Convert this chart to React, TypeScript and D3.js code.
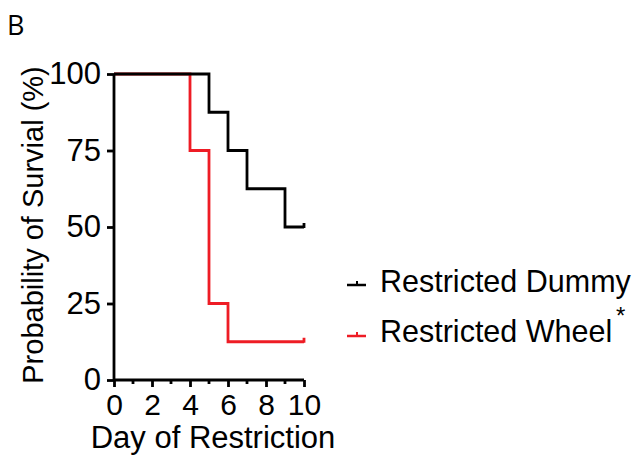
import React, { useEffect, useRef } from 'react';
import * as d3 from 'd3';

// Kaplan-Meier steps: [day, survival %]
const dummySteps: [number, number][] = [
  [0, 100], [5, 100], [5, 87.5], [6, 87.5], [6, 75], [7, 75], [7, 62.5], [9, 62.5], [9, 50], [10, 50],
];
const wheelSteps: [number, number][] = [
  [0, 100], [4, 100], [4, 75], [5, 75], [5, 25], [6, 25], [6, 12.5], [10, 12.5],
];
const seriesNames = ['Restricted Dummy', 'Restricted Wheel'];
const seriesColors = ['#000000', '#ee1c25'];
const xTicks = [0, 2, 4, 6, 8, 10];
const xMinorTicks = [1, 3, 5, 7, 9];
const yTicks = [0, 25, 50, 75, 100];

const App = () => {
  const svgRef = useRef<SVGSVGElement>(null);

  useEffect(() => {
    const svg = d3.select(svgRef.current);
    svg.selectAll('*').remove();
    const font = 'Liberation Sans, Arial, sans-serif';

    const x = d3.scaleLinear().domain([0, 10]).range([114, 304]);
    const y = d3.scaleLinear().domain([0, 100]).range([380, 74]);

    svg.append('text').attr('x', 7).attr('y', 35).text('B')
      .style('font-family', 'Open Sans, sans-serif').style('font-size', '27px');

    const line = d3.line<[number, number]>().x(d => x(d[0])).y(d => y(d[1]));

    // red under black
    [wheelSteps, dummySteps].forEach((steps, i) => {
      const color = i === 0 ? seriesColors[1] : seriesColors[0];
      svg.append('path').attr('d', line(steps)).attr('fill', 'none')
        .attr('stroke', color).attr('stroke-width', 2.8).attr('stroke-linejoin', 'miter');
      const last = steps[steps.length - 1];
      svg.append('line')
        .attr('x1', x(last[0])).attr('x2', x(last[0]))
        .attr('y1', y(last[1]) + 1).attr('y2', y(last[1]) - 4)
        .attr('stroke', color).attr('stroke-width', 2.8);
    });

    // y axis
    const yAxis = d3.axisLeft(y).tickValues(yTicks).tickSize(7).tickPadding(6);
    const gy = svg.append('g').attr('transform', 'translate(114,0)').call(yAxis);
    gy.selectAll('path, line').attr('stroke', '#000').attr('stroke-width', 2.8);
    gy.select('.domain').attr('d', `M0,${y(100)}V${y(0)}`);
    gy.selectAll('text').style('font-family', font).style('font-size', '31px').attr('fill', '#000');

    // x axis
    const xAxis = d3.axisBottom(x).tickValues(xTicks).tickSize(7).tickPadding(7);
    const gx = svg.append('g').attr('transform', 'translate(0,380)').call(xAxis);
    gx.selectAll('path, line').attr('stroke', '#000').attr('stroke-width', 2.8);
    gx.select('.domain').attr('d', `M${x(0)},0H${x(10)}`);
    gx.selectAll('text').style('font-family', font).style('font-size', '30px').attr('fill', '#000');
    gx.selectAll('.minor').data(xMinorTicks).enter().append('line')
      .attr('x1', d => x(d)).attr('x2', d => x(d)).attr('y1', 0).attr('y2', 4)
      .attr('stroke', '#000').attr('stroke-width', 2.8);

    svg.append('text').attr('x', 213).attr('y', 448).attr('text-anchor', 'middle')
      .text('Day of Restriction').style('font-family', font).style('font-size', '31px');

    svg.append('text').attr('transform', 'translate(43,225) rotate(-90)').attr('text-anchor', 'middle')
      .text('Probability of Survial (%)').style('font-family', font).style('font-size', '29px');

    // legend
    const legendY = [285, 336];
    const textY = [292, 342];
    seriesNames.forEach((name, i) => {
      const g = svg.append('g').attr('transform', `translate(347,${legendY[i]})`);
      g.append('line').attr('x1', 0).attr('x2', 19).attr('y1', 0).attr('y2', 0)
        .attr('stroke', seriesColors[i]).attr('stroke-width', 2.5);
      g.append('line').attr('x1', 10).attr('x2', 10).attr('y1', 0).attr('y2', -4)
        .attr('stroke', seriesColors[i]).attr('stroke-width', 2);
      g.append('text').attr('x', 33).attr('y', textY[i] - legendY[i]).text(name)
        .style('font-family', font).style('font-size', '30.5px');
    });
    svg.append('text').attr('x', 616).attr('y', 324).text('*')
      .style('font-family', font).style('font-size', '24px');
  }, []);

  return <svg ref={svgRef} width={635} height={458} style={{ position: 'absolute', left: 0, top: 0 }} />;
};

export default App;
